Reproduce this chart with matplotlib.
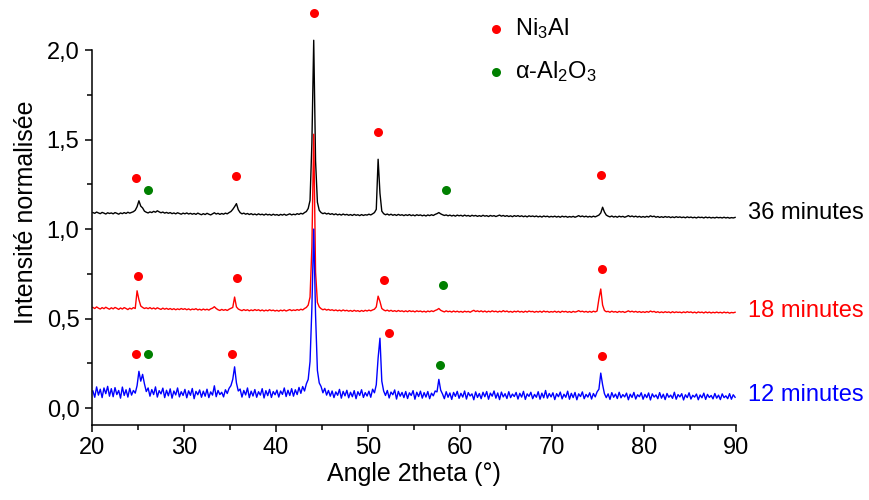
import numpy as np
import matplotlib
matplotlib.use("Agg")
import matplotlib.pyplot as plt
from matplotlib.ticker import MultipleLocator, FixedLocator, FuncFormatter

plt.rcParams['font.family'] = ['Liberation Sans', 'DejaVu Sans']
plt.rcParams['mathtext.fontset'] = 'custom'
plt.rcParams['mathtext.rm'] = 'Liberation Sans'
plt.rcParams['mathtext.default'] = 'regular'

# 2theta sampling: 20.1 .. 89.9 every 0.2 deg, 10 points per row below
two_theta = np.round(np.arange(20.1, 89.95, 0.2), 1)

# 36 minutes (black)
y_36 = [
    1.092, 1.088, 1.095, 1.090, 1.086, 1.093, 1.089, 1.084, 1.091, 1.087,
    1.090, 1.085, 1.092, 1.088, 1.083, 1.090, 1.086, 1.092, 1.087, 1.094,
    1.089, 1.093, 1.097, 1.105, 1.125, 1.158, 1.128, 1.118, 1.100, 1.094,
    1.090, 1.096, 1.092, 1.099, 1.094, 1.102, 1.096, 1.091, 1.095, 1.089,
    1.093, 1.088, 1.092, 1.086, 1.090, 1.085, 1.091, 1.087, 1.083, 1.089,
    1.085, 1.090, 1.084, 1.088, 1.083, 1.087, 1.082, 1.089, 1.084, 1.080,
    1.086, 1.081, 1.088, 1.083, 1.079, 1.085, 1.091, 1.084, 1.088, 1.082,
    1.087, 1.083, 1.089, 1.085, 1.092, 1.098, 1.110, 1.125, 1.142, 1.108,
    1.092, 1.085, 1.089, 1.083, 1.087, 1.081, 1.086, 1.080, 1.084, 1.079,
    1.085, 1.080, 1.083, 1.078, 1.084, 1.079, 1.082, 1.077, 1.083, 1.078,
    1.081, 1.076, 1.082, 1.078, 1.083, 1.077, 1.081, 1.085, 1.079, 1.083,
    1.080, 1.086, 1.082, 1.088, 1.084, 1.092, 1.098, 1.115, 1.160, 1.480,
    2.055, 1.380, 1.150, 1.105, 1.092, 1.086, 1.090, 1.084, 1.088, 1.082,
    1.086, 1.080, 1.085, 1.079, 1.083, 1.078, 1.084, 1.079, 1.082, 1.077,
    1.081, 1.076, 1.082, 1.077, 1.080, 1.075, 1.081, 1.076, 1.080, 1.078,
    1.083, 1.079, 1.085, 1.092, 1.110, 1.390, 1.200, 1.100, 1.086, 1.080,
    1.084, 1.078, 1.083, 1.077, 1.081, 1.076, 1.082, 1.077, 1.080, 1.075,
    1.080, 1.076, 1.081, 1.075, 1.079, 1.074, 1.080, 1.076, 1.079, 1.074,
    1.078, 1.073, 1.079, 1.075, 1.080, 1.076, 1.082, 1.086, 1.092, 1.085,
    1.080, 1.076, 1.079, 1.074, 1.078, 1.073, 1.077, 1.072, 1.078, 1.074,
    1.077, 1.072, 1.078, 1.073, 1.076, 1.071, 1.077, 1.073, 1.076, 1.071,
    1.075, 1.071, 1.077, 1.072, 1.075, 1.070, 1.076, 1.072, 1.075, 1.070,
    1.074, 1.078, 1.072, 1.076, 1.071, 1.075, 1.070, 1.074, 1.069, 1.075,
    1.071, 1.075, 1.070, 1.074, 1.069, 1.073, 1.068, 1.074, 1.070, 1.073,
    1.069, 1.073, 1.068, 1.072, 1.067, 1.073, 1.069, 1.072, 1.067, 1.071,
    1.068, 1.072, 1.067, 1.071, 1.066, 1.072, 1.068, 1.071, 1.066, 1.070,
    1.067, 1.071, 1.066, 1.070, 1.075, 1.069, 1.073, 1.068, 1.072, 1.067,
    1.071, 1.067, 1.072, 1.068, 1.073, 1.078, 1.090, 1.122, 1.095, 1.078,
    1.072, 1.068, 1.073, 1.067, 1.071, 1.066, 1.072, 1.068, 1.071, 1.066,
    1.070, 1.075, 1.069, 1.073, 1.068, 1.072, 1.067, 1.071, 1.066, 1.070,
    1.066, 1.071, 1.067, 1.074, 1.069, 1.072, 1.066, 1.070, 1.065, 1.069,
    1.065, 1.070, 1.066, 1.069, 1.064, 1.068, 1.064, 1.069, 1.065, 1.068,
    1.064, 1.067, 1.063, 1.068, 1.064, 1.067, 1.063, 1.066, 1.062, 1.067,
    1.064, 1.066, 1.062, 1.067, 1.063, 1.066, 1.062, 1.065, 1.062, 1.066,
    1.063, 1.065, 1.062, 1.066, 1.062, 1.065, 1.061, 1.064, 1.062, 1.065,
]

# 18 minutes (red)
y_18 = [
    0.562, 0.556, 0.565, 0.558, 0.553, 0.561, 0.555, 0.563, 0.557, 0.552,
    0.560, 0.554, 0.562, 0.557, 0.551, 0.559, 0.553, 0.561, 0.556, 0.550,
    0.558, 0.553, 0.561, 0.556, 0.655, 0.605, 0.570, 0.562, 0.556, 0.560,
    0.555, 0.561, 0.554, 0.559, 0.553, 0.560, 0.555, 0.551, 0.558, 0.552,
    0.557, 0.551, 0.556, 0.550, 0.555, 0.549, 0.554, 0.550, 0.556, 0.551,
    0.555, 0.549, 0.554, 0.548, 0.553, 0.550, 0.555, 0.548, 0.552, 0.547,
    0.553, 0.548, 0.552, 0.547, 0.554, 0.558, 0.566, 0.556, 0.549, 0.545,
    0.551, 0.546, 0.550, 0.545, 0.552, 0.557, 0.562, 0.620, 0.565, 0.553,
    0.548, 0.544, 0.550, 0.545, 0.549, 0.543, 0.548, 0.544, 0.550, 0.545,
    0.549, 0.543, 0.548, 0.542, 0.547, 0.543, 0.549, 0.544, 0.547, 0.542,
    0.546, 0.541, 0.547, 0.543, 0.548, 0.542, 0.546, 0.550, 0.544, 0.548,
    0.545, 0.550, 0.546, 0.552, 0.548, 0.556, 0.562, 0.575, 0.620, 0.900,
    1.530, 0.760, 0.590, 0.565, 0.555, 0.549, 0.553, 0.547, 0.551, 0.546,
    0.549, 0.544, 0.548, 0.543, 0.547, 0.542, 0.548, 0.543, 0.546, 0.541,
    0.545, 0.540, 0.546, 0.541, 0.544, 0.539, 0.545, 0.540, 0.546, 0.542,
    0.547, 0.543, 0.548, 0.552, 0.565, 0.625, 0.595, 0.556, 0.548, 0.543,
    0.547, 0.541, 0.546, 0.540, 0.544, 0.539, 0.545, 0.540, 0.543, 0.538,
    0.543, 0.538, 0.544, 0.539, 0.542, 0.537, 0.543, 0.539, 0.542, 0.537,
    0.541, 0.536, 0.542, 0.538, 0.543, 0.539, 0.545, 0.549, 0.556, 0.546,
    0.541, 0.537, 0.543, 0.538, 0.541, 0.536, 0.542, 0.537, 0.541, 0.536,
    0.540, 0.535, 0.541, 0.537, 0.540, 0.535, 0.541, 0.546, 0.539, 0.543,
    0.538, 0.543, 0.537, 0.542, 0.536, 0.541, 0.537, 0.543, 0.538, 0.541,
    0.536, 0.541, 0.537, 0.544, 0.538, 0.542, 0.536, 0.540, 0.535, 0.541,
    0.537, 0.542, 0.536, 0.540, 0.535, 0.541, 0.536, 0.542, 0.538, 0.540,
    0.535, 0.540, 0.536, 0.541, 0.535, 0.542, 0.537, 0.540, 0.535, 0.539,
    0.536, 0.541, 0.535, 0.540, 0.534, 0.541, 0.537, 0.540, 0.535, 0.539,
    0.534, 0.540, 0.536, 0.539, 0.544, 0.538, 0.541, 0.536, 0.540, 0.535,
    0.540, 0.535, 0.541, 0.537, 0.542, 0.610, 0.665, 0.575, 0.545, 0.538,
    0.540, 0.535, 0.541, 0.536, 0.539, 0.534, 0.540, 0.536, 0.539, 0.534,
    0.538, 0.543, 0.537, 0.541, 0.536, 0.540, 0.535, 0.539, 0.534, 0.538,
    0.534, 0.539, 0.535, 0.542, 0.537, 0.540, 0.534, 0.538, 0.533, 0.537,
    0.533, 0.538, 0.534, 0.537, 0.532, 0.538, 0.533, 0.537, 0.534, 0.536,
    0.532, 0.537, 0.533, 0.538, 0.534, 0.537, 0.532, 0.536, 0.531, 0.537,
    0.533, 0.536, 0.531, 0.537, 0.532, 0.536, 0.531, 0.535, 0.532, 0.536,
    0.532, 0.535, 0.531, 0.536, 0.532, 0.535, 0.530, 0.534, 0.532, 0.535,
]

# 12 minutes (blue)
y_12 = [
    0.095, 0.060, 0.118, 0.072, 0.105, 0.058, 0.112, 0.080, 0.121, 0.066,
    0.108, 0.063, 0.114, 0.075, 0.098, 0.055, 0.117, 0.070, 0.102, 0.061,
    0.110, 0.072, 0.098, 0.083, 0.125, 0.205, 0.150, 0.188, 0.135, 0.092,
    0.112, 0.066, 0.103, 0.075, 0.118, 0.061, 0.097, 0.079, 0.111, 0.058,
    0.099, 0.068, 0.107, 0.055, 0.095, 0.073, 0.112, 0.062, 0.091, 0.070,
    0.104, 0.057, 0.096, 0.071, 0.109, 0.052, 0.093, 0.074, 0.101, 0.060,
    0.094, 0.066, 0.105, 0.058, 0.090, 0.072, 0.124, 0.063, 0.098, 0.075,
    0.088, 0.062, 0.102, 0.081, 0.110, 0.125, 0.160, 0.230, 0.140, 0.095,
    0.106, 0.061, 0.098, 0.073, 0.112, 0.058, 0.094, 0.067, 0.103, 0.060,
    0.091, 0.072, 0.108, 0.056, 0.097, 0.069, 0.104, 0.059, 0.092, 0.074,
    0.100, 0.061, 0.095, 0.076, 0.112, 0.064, 0.099, 0.070, 0.108, 0.066,
    0.102, 0.075, 0.115, 0.082, 0.120, 0.095, 0.135, 0.160, 0.260, 0.560,
    1.000, 0.520, 0.210, 0.140, 0.120, 0.085, 0.110, 0.072, 0.098, 0.066,
    0.095, 0.058, 0.090, 0.071, 0.104, 0.055, 0.093, 0.068, 0.099, 0.057,
    0.088, 0.063, 0.097, 0.052, 0.091, 0.070, 0.102, 0.059, 0.086, 0.067,
    0.094, 0.060, 0.105, 0.085, 0.130, 0.280, 0.390, 0.150, 0.095, 0.070,
    0.098, 0.056, 0.089, 0.074, 0.101, 0.050, 0.093, 0.066, 0.087, 0.058,
    0.092, 0.053, 0.085, 0.070, 0.097, 0.049, 0.088, 0.064, 0.094, 0.055,
    0.086, 0.061, 0.092, 0.052, 0.083, 0.068, 0.095, 0.090, 0.160, 0.100,
    0.078, 0.052, 0.091, 0.060, 0.084, 0.048, 0.087, 0.065, 0.093, 0.054,
    0.082, 0.061, 0.095, 0.050, 0.086, 0.067, 0.079, 0.046, 0.090, 0.059,
    0.081, 0.052, 0.088, 0.063, 0.092, 0.049, 0.083, 0.066, 0.095, 0.055,
    0.084, 0.047, 0.089, 0.062, 0.080, 0.053, 0.091, 0.058, 0.078, 0.064,
    0.087, 0.050, 0.082, 0.061, 0.093, 0.048, 0.079, 0.065, 0.088, 0.052,
    0.076, 0.060, 0.091, 0.049, 0.083, 0.057, 0.098, 0.055, 0.081, 0.062,
    0.085, 0.047, 0.080, 0.063, 0.089, 0.051, 0.077, 0.060, 0.094, 0.049,
    0.082, 0.058, 0.087, 0.046, 0.079, 0.064, 0.090, 0.052, 0.076, 0.061,
    0.085, 0.050, 0.081, 0.062, 0.090, 0.105, 0.195, 0.130, 0.080, 0.058,
    0.079, 0.048, 0.086, 0.060, 0.078, 0.053, 0.088, 0.057, 0.075, 0.062,
    0.083, 0.046, 0.077, 0.059, 0.087, 0.050, 0.074, 0.063, 0.085, 0.049,
    0.076, 0.058, 0.084, 0.045, 0.079, 0.061, 0.073, 0.052, 0.086, 0.055,
    0.077, 0.047, 0.081, 0.060, 0.072, 0.054, 0.088, 0.049, 0.075, 0.062,
    0.080, 0.045, 0.074, 0.058, 0.085, 0.050, 0.071, 0.061, 0.078, 0.046,
    0.073, 0.057, 0.083, 0.048, 0.076, 0.059, 0.070, 0.051, 0.081, 0.055,
    0.072, 0.047, 0.079, 0.058, 0.068, 0.052, 0.080, 0.049, 0.074, 0.060,
]

series_labels = ["36 minutes", "18 minutes", "12 minutes"]
series_colors = ["black", "#ff0000", "#0000ff"]
label_y = [1.09, 0.54, 0.07]

# phase markers (x, y)
ni3al_x = [24.8, 35.7, 44.1, 51.1, 75.3, 25.0, 35.8, 51.7, 75.4, 24.8, 35.2, 52.3, 75.4]
ni3al_y = [1.285, 1.296, 2.207, 1.54, 1.30, 0.737, 0.726, 0.715, 0.777, 0.302, 0.302, 0.419, 0.29]
al2o3_x = [26.1, 58.5, 58.2, 26.1, 57.8]
al2o3_y = [1.218, 1.218, 0.687, 0.302, 0.24]

fig = plt.figure(figsize=(8.69, 5.0), dpi=100)
ax = fig.add_axes([92 / 869, 75 / 500, 644 / 869, 425 / 500])

for y, c in zip([y_36, y_18, y_12], series_colors):
    ax.plot(two_theta, y, color=c, lw=1.0)

ax.plot(ni3al_x, ni3al_y, 'o', color='#ff0000', ms=6.5, mec='none', clip_on=False)
ax.plot(al2o3_x, al2o3_y, 'o', color='#008000', ms=6.5, mec='none', clip_on=False)

for lab, c, yy in zip(series_labels, series_colors, label_y):
    ax.text(91.3, yy, lab, color=c, fontsize=17, va='center', ha='left', clip_on=False)

# legend drawn by hand
ax.plot([0.628], [0.932], 'o', color='#ff0000', ms=6.5, mec='none', transform=ax.transAxes, clip_on=False)
ax.plot([0.628], [0.831], 'o', color='#008000', ms=6.5, mec='none', transform=ax.transAxes, clip_on=False)
ax.text(0.657, 0.932, "Ni$_3$Al", fontsize=17, va='center', transform=ax.transAxes)
ax.text(0.657, 0.831, "α-Al$_2$O$_3$", fontsize=17, va='center', transform=ax.transAxes)

ax.set_xlim(20, 90)
ax.set_ylim(-0.095, 2.28)
ax.spines['left'].set_bounds(-0.095, 2.0)
ax.xaxis.set_major_locator(MultipleLocator(10))
ax.xaxis.set_minor_locator(MultipleLocator(5))
ax.yaxis.set_major_locator(FixedLocator([0.0, 0.5, 1.0, 1.5, 2.0]))
ax.yaxis.set_minor_locator(FixedLocator([0.25, 0.75, 1.25, 1.75]))
ax.yaxis.set_major_formatter(FuncFormatter(lambda v, p: f"{v:.1f}".replace('.', ',')))
ax.tick_params(which='major', direction='out', length=5, width=1.1, labelsize=17, pad=4)
ax.tick_params(which='minor', direction='out', length=3.5, width=1.1)
ax.spines['top'].set_visible(False)
ax.spines['right'].set_visible(False)
for s in ['left', 'bottom']:
    ax.spines[s].set_linewidth(1.1)

ax.set_xlabel("Angle 2theta (°)", fontsize=18, labelpad=2)
ax.set_ylabel("Intensité normalisée", fontsize=18, labelpad=6)

fig.savefig("out.png", dpi=100)
